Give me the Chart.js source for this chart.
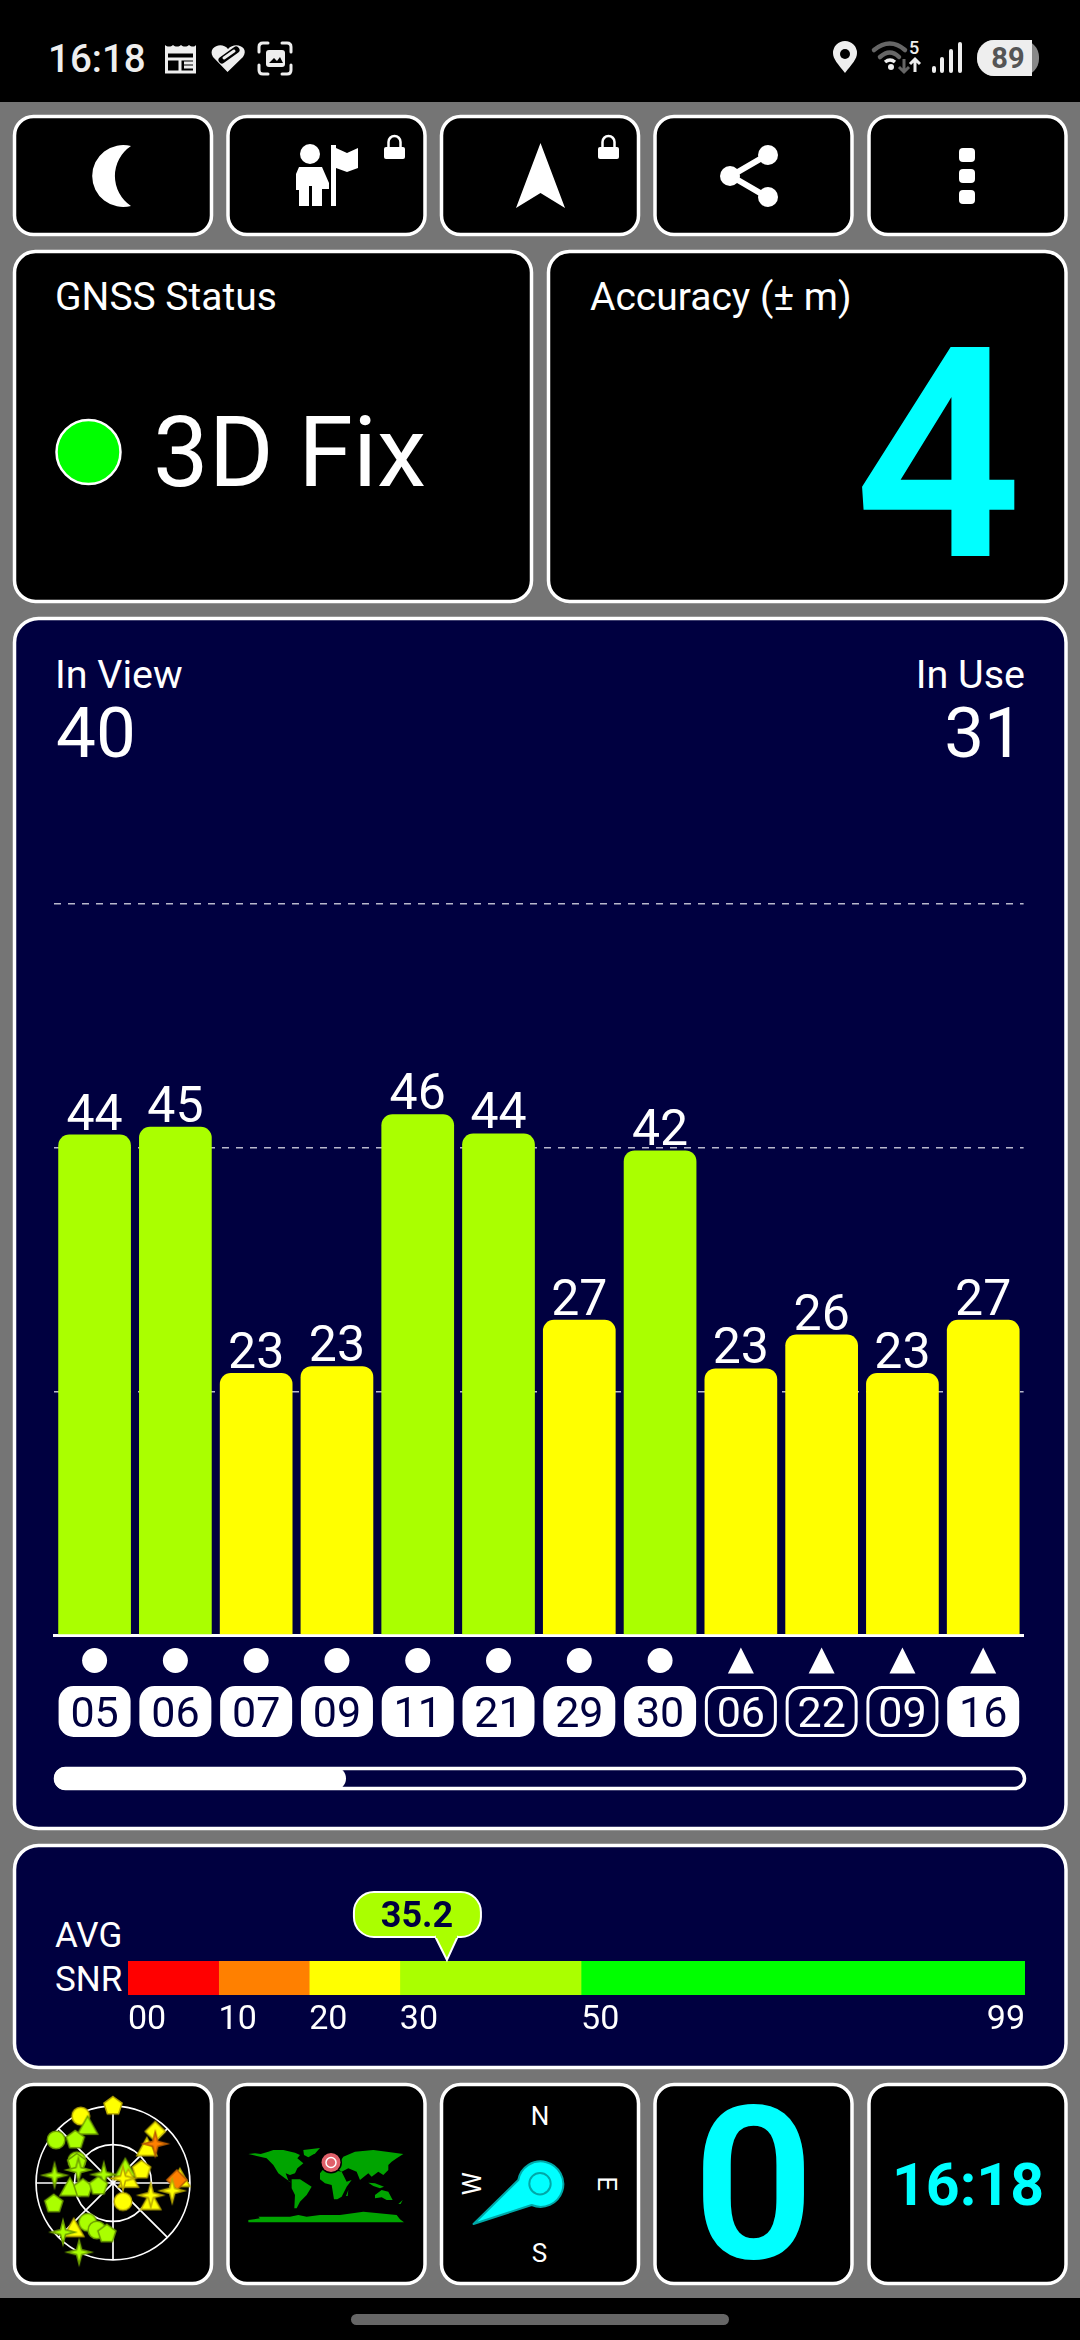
<!DOCTYPE html>
<html>
<head>
<meta charset="utf-8">
<title>GNSS Status</title>
<script src="https://cdn.jsdelivr.net/npm/chart.js@4"></script>
<style>
  html, body { margin: 0; padding: 0; background: #000; }
  #page { position: relative; width: 1080px; height: 2340px; overflow: hidden; font-family: Roboto, sans-serif; }
  svg, canvas { position: absolute; display: block; }
  svg text { font-family: Roboto, sans-serif; fill: #fff; }
  .tile { fill: #000; stroke: #fff; stroke-width: 3.5; }
  .navy { fill: #000040; stroke: #fff; stroke-width: 3.5; }
</style>
</head>
<body>
<div id="page">
<svg width="1080" height="2340" style="left:0;top:0">
  <rect x="0" y="0" width="1080" height="2340" fill="#000"/>
  <rect x="0" y="102" width="1080" height="2196" fill="#757575"/>

  <!-- status bar -->
  <text x="48" y="72" font-size="38.500" font-weight="500" style="fill:#eee">16:18</text>
  <g fill="none" stroke="#eee" stroke-width="3">
    <rect x="166.500" y="48" width="28" height="24" />
    <path d="M166 52h30M166 59h30M180 59v13M184 63h9M184 67h9"/>
  </g>
  <path d="M165 45l4 3 4-3 4 3 4-3 4 3 4-3 4 3 3-3v7h-31z" fill="#eee"/>
  <path d="M227.500 72 L213 57 C207 47 222 41 228 49 C235 41 250 47 243 57 Z" fill="#eee"/>
  <path d="M222 60 L236 50" stroke="#000" stroke-width="7" stroke-linecap="round"/>
  <path d="M224 58 L234 51" stroke="#eee" stroke-width="3" stroke-linecap="round"/>
  <g fill="none" stroke="#eee" stroke-width="3" stroke-linecap="round">
    <path d="M259 52v-5q0-4 4-4h5M282 43h5q4 0 4 4v5M291 65v5q0 4-4 4h-5M268 74h-5q-4 0-4-4v-5"/>
  </g>
  <rect x="266" y="50" width="19" height="17" rx="3" fill="#eee"/>
  <path d="M269 63l5-5 3 3 3-4 3 6z" fill="#000"/>

  <path d="M845 73 C838 64 833 59 833 53 A12 12 0 0 1 857 53 C857 59 852 64 845 73Z" fill="#eee"/>
  <circle cx="845" cy="54" r="5" fill="#000"/>
  <g fill="none" stroke="#666" stroke-width="4.500" stroke-linecap="round">
    <path d="M874 50 Q890 37 905 50"/>
    <path d="M880 57 Q890 48 899 57"/>
  </g>
  <path d="M885 62 Q890 58 895 62" fill="none" stroke="#eee" stroke-width="3.500"/>
  <circle cx="891" cy="67" r="3" fill="#eee"/>
  <text x="909" y="54" font-size="18" font-weight="500" style="fill:#eee">5</text>
  <path d="M904 59v13M899 67l5 5 5-5" fill="none" stroke="#666" stroke-width="3"/>
  <path d="M915 72v-13M910 64l5-5 5 5" fill="none" stroke="#eee" stroke-width="3"/>
  <rect x="932" y="66" width="4" height="7" rx="2" fill="#eee"/>
  <rect x="940" y="57" width="4" height="16" rx="2" fill="#eee"/>
  <rect x="949" y="49" width="4" height="24" rx="2" fill="#eee"/>
  <rect x="958" y="42" width="4" height="31" rx="2" fill="#eee"/>
  <rect x="977" y="40" width="62" height="36" rx="17" fill="#888"/>
  <path d="M994 40 H1032 V76 H994 A17 18 0 0 1 994 40Z" fill="#eee"/>
  <text x="1008" y="68" font-size="29" font-weight="700" text-anchor="middle" style="fill:#555">89</text>

  <!-- top buttons -->
  <rect class="tile" x="14.500" y="116.500" width="197" height="118" rx="19"/>
  <rect class="tile" x="228" y="116.500" width="197" height="118" rx="19"/>
  <rect class="tile" x="441.500" y="116.500" width="197" height="118" rx="19"/>
  <rect class="tile" x="655" y="116.500" width="197" height="118" rx="19"/>
  <rect class="tile" x="869" y="116.500" width="197" height="118" rx="19"/>

  <path d="M131 146 A31 31 0 1 0 131 206 A36 36 0 0 1 131 146Z" fill="#fff"/>
  <circle cx="310" cy="154" r="10" fill="#fff"/>
  <path d="M299 167 H322 V206 H312 V186 H309 V206 H299 V190 H296 V174Z M322 167 L329 183 V189 H322Z" fill="#fff"/>
  <path d="M331 145 H336 V206 H331Z M336 148 L347 153 L358 148 V168 L347 172 L336 168Z" fill="#fff"/>
  <rect x="384" y="147" width="21" height="12" rx="2" fill="#fff"/>
  <path d="M388.500 148 V142 A6 6 0 0 1 400.500 142 V148" fill="none" stroke="#fff" stroke-width="2.500"/>
  <path d="M540.500 143 L565 208 L540.500 193 L516 208Z" fill="#fff"/>
  <rect x="598" y="147" width="21" height="12" rx="2" fill="#fff"/>
  <path d="M602.500 148 V142 A6 6 0 0 1 614.500 142 V148" fill="none" stroke="#fff" stroke-width="2.500"/>
  <path d="M767 155 L731 176 L767 197" fill="none" stroke="#fff" stroke-width="6"/>
  <circle cx="768" cy="155" r="10" fill="#fff"/>
  <circle cx="730" cy="176" r="10" fill="#fff"/>
  <circle cx="768" cy="197" r="10" fill="#fff"/>
  <rect x="959" y="148" width="16" height="14" rx="4" fill="#fff"/>
  <rect x="959" y="169" width="16" height="14" rx="4" fill="#fff"/>
  <rect x="959" y="190" width="16" height="14" rx="4" fill="#fff"/>

  <!-- status + accuracy -->
  <rect class="tile" x="14.500" y="251.500" width="517" height="350" rx="21"/>
  <rect class="tile" x="548.500" y="251.500" width="517.500" height="350" rx="21"/>
  <text x="55" y="310" font-size="39">GNSS Status</text>
  <text x="590" y="310" font-size="39">Accuracy (± m)</text>
  <circle cx="88.500" cy="452" r="32" fill="#00ff00" stroke="#fff" stroke-width="2.500"/>
  <text x="153" y="486" font-size="99">3D Fix</text>
  <text x="1022" y="556" font-size="294" font-weight="600" text-anchor="end" style="fill:#00ffff">4</text>

  <!-- satellites card -->
  <rect class="navy" x="14.500" y="618.500" width="1051.500" height="1210" rx="24"/>
  <text x="55" y="688" font-size="39.500">In View</text>
  <text x="1025" y="688" font-size="39.500" text-anchor="end">In Use</text>
  <text x="56" y="757" font-size="71">40</text>
  <text x="1024" y="757" font-size="71" text-anchor="end">31</text>
  <rect x="55.500" y="1768.500" width="969" height="20" rx="10" fill="none" stroke="#fff" stroke-width="3.500"/>
  <rect x="54" y="1767" width="292" height="23" rx="11.500" fill="#fff"/>

  <!-- avg snr card -->
  <rect class="navy" x="14.500" y="1845.500" width="1051.500" height="222" rx="24"/>
  <text x="55" y="1947" font-size="35">AVG</text>
  <text x="55" y="1991" font-size="35">SNR</text>

  <!-- bottom tiles -->
  <rect class="tile" x="14.500" y="2084.500" width="197" height="199" rx="19"/>
  <rect class="tile" x="228" y="2084.500" width="197" height="199" rx="19"/>
  <rect class="tile" x="441.500" y="2084.500" width="197" height="199" rx="19"/>
  <rect class="tile" x="655" y="2084.500" width="197" height="199" rx="19"/>
  <rect class="tile" x="869" y="2084.500" width="197" height="199" rx="19"/>

  <!-- world map -->
  <g transform="translate(240,2140) scale(0.3333)" fill="#00a400">
    <path d="M25 42L45 40L62 42L85 35L100 30L130 30L165 38L180 45L172 55L190 70L172 85L165 100L150 105L137 100L146 124L155 128L135 115L115 100L100 75L80 55L50 48Z"/>
    <path d="M190 30L240 24L226 40L205 52L192 45Z"/>
    <path d="M155 118L180 118L215 140L200 165L180 185L170 205L163 205L165 165L155 145Z"/>
    <path d="M240 100L250 88L268 85L290 92L305 95L320 125L335 120L320 140L305 170L292 178L282 178L275 135L255 130L240 118Z"/>
    <path d="M265 85L280 60L300 65L310 50L345 35L400 30L440 35L490 42L470 55L455 65L445 75L445 90L430 105L415 95L395 110L385 100L360 120L350 95L325 85L305 95L290 85Z"/>
    <path d="M405 165L425 150L445 155L458 180L440 180L425 172L405 175Z"/>
    <path d="M385 128L405 130L432 140L420 145L400 138Z"/>
    <path d="M318 168L325 150L323 168Z M475 192L488 180L482 192Z"/>
    <path d="M25 240L60 235L55 230L150 230L175 225L200 230L240 225L300 225L370 215L470 225L480 238L492 247L25 247Z"/>
  </g>
  <circle cx="331" cy="2162.500" r="11" fill="#000"/>
  <circle cx="331" cy="2162.500" r="9.500" fill="#e0606a"/>
  <circle cx="331" cy="2162.500" r="5" fill="#e0606a" stroke="#fff" stroke-width="1.500"/>

  <!-- compass -->
  <text x="540" y="2124.500" font-size="26" text-anchor="middle">N</text>
  <text x="539.500" y="2262" font-size="26" text-anchor="middle">S</text>
  <text transform="translate(481,2183.700) rotate(-90)" font-size="26" text-anchor="middle">W</text>
  <text transform="translate(598,2183.700) rotate(90)" font-size="26" text-anchor="middle">E</text>
  <path d="M473.500 2224 L518.300 2180 A22.700 22.700 0 1 1 531.700 2205Z" fill="#00ffff" stroke="#00a8a8" stroke-width="2" stroke-linejoin="round"/>
  <circle cx="540" cy="2183.700" r="10.700" fill="none" stroke="#00a8a8" stroke-width="2"/>

  <text x="753.500" y="2258" font-size="213" font-weight="600" text-anchor="middle" style="fill:#00ffff">0</text>
  <text x="968" y="2205" font-size="59" font-weight="700" text-anchor="middle" style="fill:#00ffff">16:18</text>

  <rect x="351" y="2314" width="378" height="11" rx="5.500" fill="#666"/>
</svg>

<canvas id="satChart" width="1080" height="1213" style="left:0;top:617px"></canvas>
<canvas id="snrChart" width="1080" height="225" style="left:0;top:1844px"></canvas>
<canvas id="skyChart" width="200" height="200" style="left:13px;top:2083px"></canvas>
</div>

<script>
// satellites shown in the bar chart
const satIds = ["05", "06", "07", "09", "11", "21", "29", "30", "06", "22", "09", "16"];
const satSnr = [44.3, 45.0, 23.2, 23.8, 46.1, 44.4, 27.9, 42.9, 23.6, 26.6, 23.2, 27.9];
const satSnrText = [44, 45, 23, 23, 46, 44, 27, 42, 23, 26, 23, 27];
const satShape = ["circle", "circle", "circle", "circle", "circle", "circle", "circle", "circle",
  "triangle", "triangle", "triangle", "triangle"];
const satInUse = [true, true, true, true, true, true, true, true, false, false, false, true];
const gridValues = [0, 21.57, 43.14, 64.71];

// average snr gauge
const avgSnr = 35.2;
const bandWidths = [10, 10, 10, 20, 49];
const bandColors = ["#ff0000", "#ff8000", "#ffff00", "#aaff00", "#00ff00"];
const bandTicks = [0, 10, 20, 30, 50, 99];
const bandTickText = ["00", "10", "20", "30", "50", "99"];

// sky plot, in units of the outer ring radius
const skyX = [-.42, -.33, 0, -.74, -.49, .55, .44, .55, -.47, -.47, -.45, -.76, -.12, .16, .37, .2, .13,
  .87, .83, .77, -.56, -.39, -.19, .49, .49, .13, -.77, -.33, -.21, -.08, -.51, -.65, -.44];
const skyY = [.87, .74, 1, .56, .56, .67, .46, .51, .29, .26, .17, .1, .11, .19, .17, .05, .06,
  .06, .04, -.1, -.06, -.07, -.04, -.24, -.16, -.24, -.27, -.51, -.61, -.66, -.59, -.64, -.9];
const skyShape = ["circle", "triangle", "pentagon", "circle", "pentagon", "diamond", "triangle", "star",
  "circle", "pentagon", "star", "star", "star", "triangle", "pentagon", "triangle", "star",
  "triangle", "diamond", "star", "triangle", "pentagon", "pentagon", "triangle", "star", "circle",
  "pentagon", "circle", "circle", "pentagon", "triangle", "star", "star"];
const skyColor = ["Y", "G", "Y", "G", "G", "Y", "Y", "O", "G", "G", "G", "G", "G", "G", "Y", "Y", "Y",
  "Y", "O", "Y", "G", "G", "G", "Y", "Y", "Y", "G", "G", "G", "G", "Y", "G", "G"];

const GREEN = "#aaff00";
const YELLOW = "#ffff00";
const NAVY = "#000040";
const FONT = "Roboto, sans-serif";

function barColor(v) {
  return v >= 30 ? GREEN : YELLOW;
}

function roundRect(ctx, x, y, w, h, r) {
  ctx.beginPath();
  ctx.roundRect(x, y, w, h, r);
}

const satDecor = {
  id: "satDecor",
  afterDatasetsDraw(chart) {
    const ctx = chart.ctx;
    const xs = chart.scales.x;
    const ys = chart.scales.y;
    const top = chart.canvas.offsetTop;
    ctx.save();
    satIds.forEach(function (id, i) {
      const x = xs.getPixelForValue(i);
      ctx.fillStyle = "#fff";
      ctx.font = "50px " + FONT;
      ctx.textAlign = "center";
      ctx.textBaseline = "alphabetic";
      ctx.fillText(String(satSnrText[i]), x, ys.getPixelForValue(satSnr[i]) - 5);

      // constellation mark
      const my = 1660.5 - top;
      ctx.beginPath();
      if (satShape[i] === "circle") {
        ctx.arc(x, my, 12.5, 0, Math.PI * 2);
      } else {
        ctx.moveTo(x, my - 13);
        ctx.lineTo(x + 13, my + 13);
        ctx.lineTo(x - 13, my + 13);
        ctx.closePath();
      }
      ctx.fill();

      // id pill
      const py = 1686 - top;
      if (satInUse[i]) {
        roundRect(ctx, x - 36, py, 72, 51, 15);
        ctx.fill();
        ctx.fillStyle = NAVY;
      } else {
        roundRect(ctx, x - 34.5, py + 1.5, 69, 48, 14);
        ctx.strokeStyle = "#fff";
        ctx.lineWidth = 3;
        ctx.stroke();
        ctx.fillStyle = "#fff";
      }
      ctx.font = "43px " + FONT;
      ctx.fillText(id, x, py + 41);
    });
    ctx.restore();
  }
};

new Chart(document.getElementById("satChart"), {
  type: "bar",
  data: {
    labels: satIds.map(function (id, i) { return i; }),
    datasets: [{
      data: satSnr,
      backgroundColor: satSnr.map(barColor),
      barPercentage: 0.9,
      categoryPercentage: 1,
      borderRadius: { topLeft: 11, topRight: 11, bottomLeft: 0, bottomRight: 0 },
      borderSkipped: false
    }]
  },
  options: {
    responsive: false,
    animation: false,
    layout: { padding: { left: 54.2, right: 56.4, top: 287, bottom: 195 } },
    plugins: { legend: { display: false }, tooltip: { enabled: false } },
    scales: {
      x: {
        grid: { display: false, drawTicks: false, tickLength: 0 },
        border: { color: "#fff", width: 3 },
        ticks: { display: false, padding: 0 }
      },
      y: {
        min: 0,
        max: gridValues[gridValues.length - 1],
        afterBuildTicks(axis) {
          axis.ticks = gridValues.map(function (v) { return { value: v }; });
        },
        grid: { color: "#b8b8cc", lineWidth: 1.5, drawTicks: false },
        border: { display: false, dash: [7, 7] },
        ticks: { display: false }
      }
    }
  },
  plugins: [satDecor]
});

const snrDecor = {
  id: "snrDecor",
  afterDatasetsDraw(chart) {
    const ctx = chart.ctx;
    const xs = chart.scales.x;
    const top = chart.canvas.offsetTop;
    ctx.save();
    ctx.fillStyle = "#fff";
    ctx.font = "34px " + FONT;
    ctx.textBaseline = "alphabetic";
    bandTicks.forEach(function (t, i) {
      ctx.textAlign = i === bandTicks.length - 1 ? "right" : "left";
      ctx.fillText(bandTickText[i], xs.getPixelForValue(t), 2029 - top);
    });

    // callout over the bar
    const tip = xs.getPixelForValue(avgSnr);
    ctx.beginPath();
    ctx.roundRect(tip - 93, 1892 - top, 127, 45, 20);
    ctx.fillStyle = GREEN;
    ctx.strokeStyle = "#fff";
    ctx.lineWidth = 2;
    ctx.fill();
    ctx.stroke();
    ctx.beginPath();
    ctx.moveTo(tip - 12, 1936 - top);
    ctx.lineTo(tip, 1960 - top);
    ctx.lineTo(tip + 11, 1936 - top);
    ctx.fill();
    ctx.stroke();
    ctx.fillRect(tip - 11, 1934 - top, 21, 4);
    ctx.fillStyle = NAVY;
    ctx.font = "bold 36px " + FONT;
    ctx.textAlign = "center";
    ctx.fillText(avgSnr.toFixed(1), tip - 30, 1927 - top);
    ctx.restore();
  }
};

new Chart(document.getElementById("snrChart"), {
  type: "bar",
  data: {
    labels: ["avg"],
    datasets: bandWidths.map(function (w, i) {
      return { data: [w], backgroundColor: bandColors[i], barPercentage: 1, categoryPercentage: 1 };
    })
  },
  options: {
    indexAxis: "y",
    responsive: false,
    animation: false,
    layout: { padding: { left: 128, right: 55, top: 117, bottom: 74 } },
    plugins: { legend: { display: false }, tooltip: { enabled: false } },
    scales: {
      x: { display: false, stacked: true, min: 0, max: 99 },
      y: { display: false, stacked: true }
    }
  },
  plugins: [snrDecor]
});

// pentagon and four point star are not built in, so all marks are sprites
function skySprite(shape, code) {
  const fill = { G: "#aaff00", Y: "#ffff00", O: "#ff8000" }[code];
  const edge = { G: "#6c9c00", Y: "#b8a800", O: "#b85c00" }[code];
  const c = document.createElement("canvas");
  c.width = 32;
  c.height = 32;
  const g = c.getContext("2d");
  g.translate(16, 16);
  g.fillStyle = fill;
  g.strokeStyle = edge;
  g.lineWidth = 1.5;
  g.beginPath();
  if (shape === "circle") {
    g.arc(0, 0, 8.8, 0, Math.PI * 2);
  } else if (shape === "triangle") {
    g.moveTo(0, -10);
    g.lineTo(10, 8);
    g.lineTo(-10, 8);
    g.closePath();
  } else if (shape === "diamond") {
    g.moveTo(0, -10);
    g.lineTo(10, 0);
    g.lineTo(0, 10);
    g.lineTo(-10, 0);
    g.closePath();
  } else if (shape === "pentagon") {
    for (let k = 0; k < 5; k++) {
      const a = -Math.PI / 2 + k * 2 * Math.PI / 5;
      g.lineTo(9.5 * Math.cos(a), 9.5 * Math.sin(a));
    }
    g.closePath();
  } else {
    for (let k = 0; k < 8; k++) {
      const a = -Math.PI / 2 + k * Math.PI / 4;
      const r = k % 2 === 0 ? 12 : 3.5;
      g.lineTo(r * Math.cos(a), r * Math.sin(a));
    }
    g.closePath();
  }
  g.fill();
  g.stroke();
  return c;
}

const skyGrid = {
  id: "skyGrid",
  beforeDatasetsDraw(chart) {
    const ctx = chart.ctx;
    const xs = chart.scales.x;
    const ys = chart.scales.y;
    const cx = xs.getPixelForValue(0);
    const cy = ys.getPixelForValue(0);
    const r = xs.getPixelForValue(1) - cx;
    ctx.save();
    ctx.strokeStyle = "#fff";
    ctx.lineWidth = 1.7;
    [1, 0.5].forEach(function (f) {
      ctx.beginPath();
      ctx.arc(cx, cy, r * f, 0, Math.PI * 2);
      ctx.stroke();
    });
    [0, 45, 90, 135].forEach(function (deg) {
      const a = deg * Math.PI / 180;
      ctx.beginPath();
      ctx.moveTo(cx - r * Math.cos(a), cy - r * Math.sin(a));
      ctx.lineTo(cx + r * Math.cos(a), cy + r * Math.sin(a));
      ctx.stroke();
    });
    ctx.restore();
  }
};

new Chart(document.getElementById("skyChart"), {
  type: "scatter",
  data: {
    datasets: [{
      data: skyX.map(function (x, i) { return { x: x, y: skyY[i] }; }),
      pointStyle: skyShape.map(function (s, i) { return skySprite(s, skyColor[i]); }),
      pointRadius: 9,
      clip: false
    }]
  },
  options: {
    responsive: false,
    animation: false,
    layout: { padding: 0, autoPadding: false },
    plugins: { legend: { display: false }, tooltip: { enabled: false } },
    scales: {
      x: { display: false, min: -1.3, max: 1.3 },
      y: { display: false, min: -1.3, max: 1.3 }
    }
  },
  plugins: [skyGrid]
});
</script>
</body>
</html>
